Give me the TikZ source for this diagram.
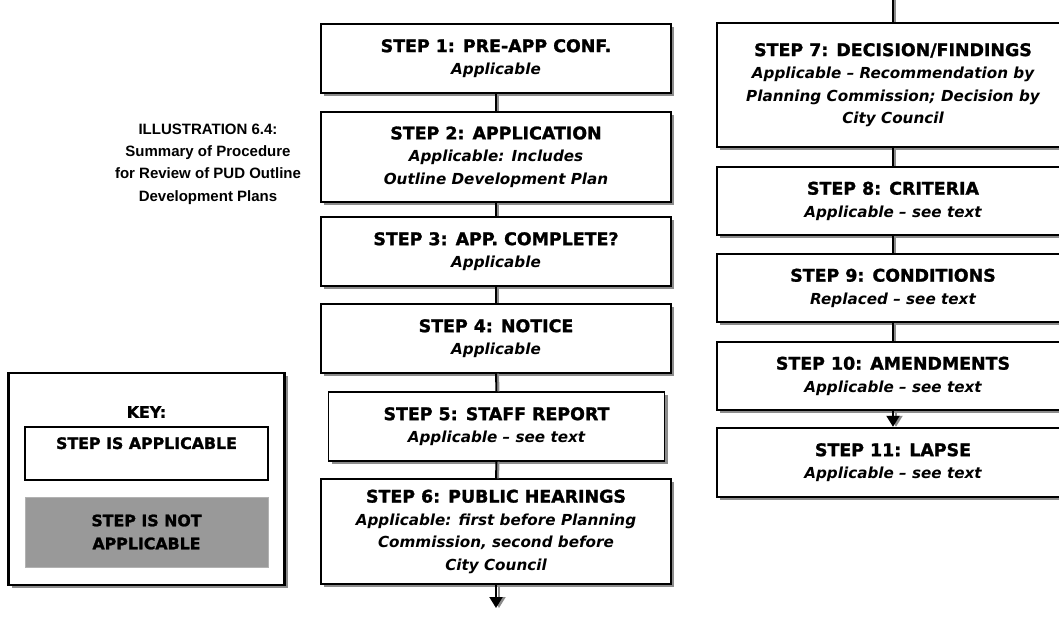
\documentclass[tikz,border=0pt]{standalone}
\usepackage{fontspec}
\setmainfont{DejaVu Sans}[BoldFeatures={FakeBold=1.4}]
\newfontfamily\titlefont{Liberation Sans}
\usetikzlibrary{shadows,arrows.meta}
\newcommand{\sttl}[1]{{\fontsize{17.4}{22}\selectfont\upshape #1}}
\tikzset{
  stepbox/.style={draw=black, line width=1.4pt, fill=white, inner sep=2pt,
    align=center, minimum height=#1,
    font={\fontsize{15.2}{22.5}\selectfont\bfseries\itshape},
    drop shadow={shadow xshift=3pt, shadow yshift=-3pt, fill=black!45, opacity=1}},
  leftbox/.style={stepbox=#1, minimum width=350pt},
  rightbox/.style={stepbox=#1, minimum width=352pt},
  keytext/.style={font={\fontsize{15.8}{23}\selectfont\bfseries}, align=center},
  conn/.style={draw=black, line width=2pt},
  connsh/.style={draw=black!45, line width=2pt},
  arr/.style={conn, -{Triangle[width=13pt,length=11pt]}},
  arrsh/.style={connsh, -{Triangle[width=13pt,length=11pt]}},
}
\begin{document}
\begin{tikzpicture}[x=1pt,y=-1pt]
\useasboundingbox (0,0) rectangle (1059,623);
\clip (0,0) rectangle (1059,623);
% title
\node[align=center, font={\titlefont\fontsize{15}{22.3}\selectfont\bfseries}] (title) at (208,164)
  {ILLUSTRATION 6.4:\\Summary of Procedure\\for Review of PUD Outline\\Development Plans};
% key
\node[draw=black, line width=2.8pt, fill=white, minimum width=276pt, minimum height=212pt,
  drop shadow={shadow xshift=3pt, shadow yshift=-3pt, fill=black!45, opacity=1}] (key) at (146.5,479) {};
\node[keytext] (keyl) at (146.5,412) {KEY:};
\node[keytext, draw=black, line width=1.4pt, minimum width=243pt, minimum height=53pt,
  font={\fontsize{15.8}{16}\selectfont\bfseries}] (kapp) at (146.5,453.5) {STEP IS APPLICABLE\\\strut};
\node[keytext, draw=black!30, line width=0.8pt, fill=black!40, minimum width=243pt, minimum height=70pt] (knot) at (146.5,532) {STEP IS NOT\\APPLICABLE};
% left column
\node[leftbox=69pt] (s1) at (496,58.5) {\sttl{STEP 1: PRE-APP CONF.}\\Applicable};
\node[leftbox=90pt] (s2) at (496,157) {\sttl{STEP 2: APPLICATION}\\Applicable: Includes\\Outline Development Plan};
\node[leftbox=69pt] (s3) at (496,251.5) {\sttl{STEP 3: APP. COMPLETE?}\\Applicable};
\node[leftbox=69pt] (s4) at (496,338.5) {\sttl{STEP 4: NOTICE}\\Applicable};
\node[stepbox=69pt, minimum width=336pt] (s5) at (496.5,426.5) {\sttl{STEP 5: STAFF REPORT}\\Applicable -- see text};
\node[leftbox=105pt] (s6) at (496,531.5) {\sttl{STEP 6: PUBLIC HEARINGS}\\Applicable: first before Planning\\Commission, second before\\City Council};
% right column
\node[rightbox=124pt] (s7) at (893,85) {\sttl{STEP 7: DECISION/FINDINGS}\\Applicable -- Recommendation by\\Planning Commission; Decision by\\City Council};
\node[rightbox=68pt] (s8) at (893,201) {\sttl{STEP 8: CRITERIA}\\Applicable -- see text};
\node[rightbox=68pt] (s9) at (893,288) {\sttl{STEP 9: CONDITIONS}\\Replaced -- see text};
\node[rightbox=68pt] (s10) at (893,376) {\sttl{STEP 10: AMENDMENTS}\\Applicable -- see text};
\node[rightbox=69pt] (s11) at (893,462.5) {\sttl{STEP 11: LAPSE}\\Applicable -- see text};
\coordinate (top) at (893,0);
\coordinate (bot) at (496,608);
% connectors
\foreach \a/\b in {s1/s2,s2/s3,s3/s4,s4/s5,s5/s6,top/s7,s7/s8,s8/s9,s9/s10}{
  \draw[connsh] ([xshift=2pt]\a.south) -- ([xshift=2pt]\b.north);
  \draw[conn] (\a.south) -- (\b.north);
}
\draw[arrsh] ([xshift=3pt]s6.south) -- ([xshift=3pt]bot);
\draw[arr] (s6.south) -- (bot);
\draw[arrsh, shorten >=0.5pt] ([xshift=3pt]s10.south) -- ([xshift=3pt]s11.north);
\draw[arr, shorten >=0.5pt] (s10.south) -- (s11.north);
\end{tikzpicture}
\end{document}
